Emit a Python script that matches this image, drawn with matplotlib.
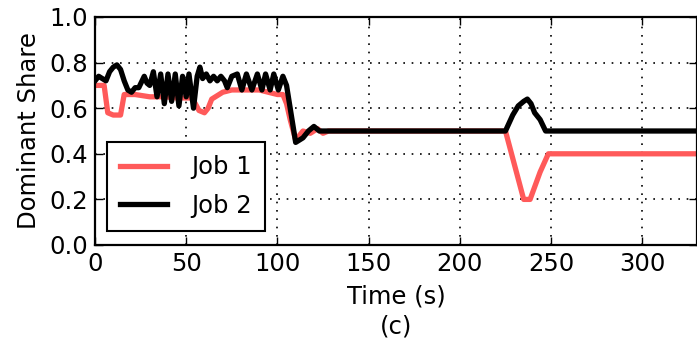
import matplotlib
matplotlib.use("Agg")
import matplotlib.pyplot as plt

# Job 1 (red)
t_job1 = [0, 5, 7, 10, 14, 16, 22, 30, 38, 45, 53, 55, 57, 60, 62, 64, 66, 70, 75,
          80, 90, 95, 100, 103, 105, 107, 110, 114, 118, 122, 125, 128,
          225, 230, 235, 238.5, 244, 248.5, 330]
job1 = [0.70, 0.70, 0.58, 0.57, 0.57, 0.66, 0.66, 0.65, 0.65, 0.645, 0.645, 0.62, 0.59, 0.58, 0.60, 0.64, 0.65, 0.67, 0.68,
        0.68, 0.68, 0.67, 0.66, 0.66, 0.62, 0.55, 0.46, 0.50, 0.49, 0.51, 0.49, 0.50,
        0.50, 0.35, 0.20, 0.20, 0.32, 0.40, 0.40]

# Job 2 (black)
t_job2 = [0, 2, 4, 6, 8, 10, 12, 14, 16, 18, 20, 22, 24, 27, 28.5,
          30, 32, 34, 36, 38, 40, 42, 44, 46, 48, 50, 51.5, 54, 56, 57.5, 59, 61, 63, 65, 67, 69, 71,
          72.5, 75, 78, 80.5, 83, 86, 89, 91.5, 93.5, 96, 98, 100.5, 103, 105, 107, 110, 114, 117, 120, 123, 125,
          225, 229, 232, 235, 237, 239, 241, 244, 247, 330]
job2 = [0.72, 0.74, 0.73, 0.72, 0.76, 0.78, 0.79, 0.77, 0.72, 0.68, 0.67, 0.69, 0.69, 0.74, 0.71,
        0.70, 0.76, 0.65, 0.75, 0.62, 0.75, 0.63, 0.75, 0.61, 0.74, 0.65, 0.75, 0.60, 0.74, 0.78, 0.73, 0.75, 0.72, 0.74, 0.72, 0.74, 0.72,
        0.69, 0.74, 0.75, 0.68, 0.75, 0.68, 0.75, 0.68, 0.75, 0.68, 0.75, 0.68, 0.74, 0.70, 0.60, 0.45, 0.47, 0.50, 0.52, 0.50, 0.50,
        0.50, 0.57, 0.61, 0.63, 0.64, 0.62, 0.58, 0.55, 0.50, 0.50]

x_ticks = [0, 50, 100, 150, 200, 250, 300]
y_ticks = [0.0, 0.2, 0.4, 0.6, 0.8, 1.0]

plt.rcParams['font.family'] = ['DejaVu Sans']
fs = 17.5

fig = plt.figure(figsize=(6.97, 3.42), dpi=100)
ax = fig.add_axes([95/697, 1 - 245/342, (697 - 95)/697, 228/342])

ax.plot(t_job1, job1, color='#ff5a5a', lw=3.8, label='Job 1', solid_joinstyle='round')
ax.plot(t_job2, job2, color='black', lw=3.8, label='Job 2', solid_joinstyle='round')

ax.set_xlim(0, 330)
ax.set_ylim(0, 1.0)
ax.set_xticks(x_ticks)
ax.set_yticks(y_ticks)
ax.set_yticklabels([f"{v:.1f}" for v in y_ticks])
ax.grid(True, color='black', linestyle=(0, (1, 4)), linewidth=1.2)
ax.tick_params(direction='in', length=6, width=1, labelsize=fs, top=True, right=True, pad=5)
for s in ax.spines.values():
    s.set_linewidth(1.6)

ax.set_ylabel('Dominant Share', fontsize=fs, labelpad=6)
ax.set_xlabel('Time (s)\n(c)', fontsize=fs, linespacing=1.35, labelpad=6)

leg = ax.legend(loc='lower left', bbox_to_anchor=(12/602, 14/228), borderaxespad=0,
                fontsize=fs, fancybox=False, framealpha=1, edgecolor='black',
                handlelength=1.9, handletextpad=1.0, borderpad=0.55, labelspacing=0.6)
leg.get_frame().set_linewidth(1.5)

fig.savefig('out.png', dpi=100)
